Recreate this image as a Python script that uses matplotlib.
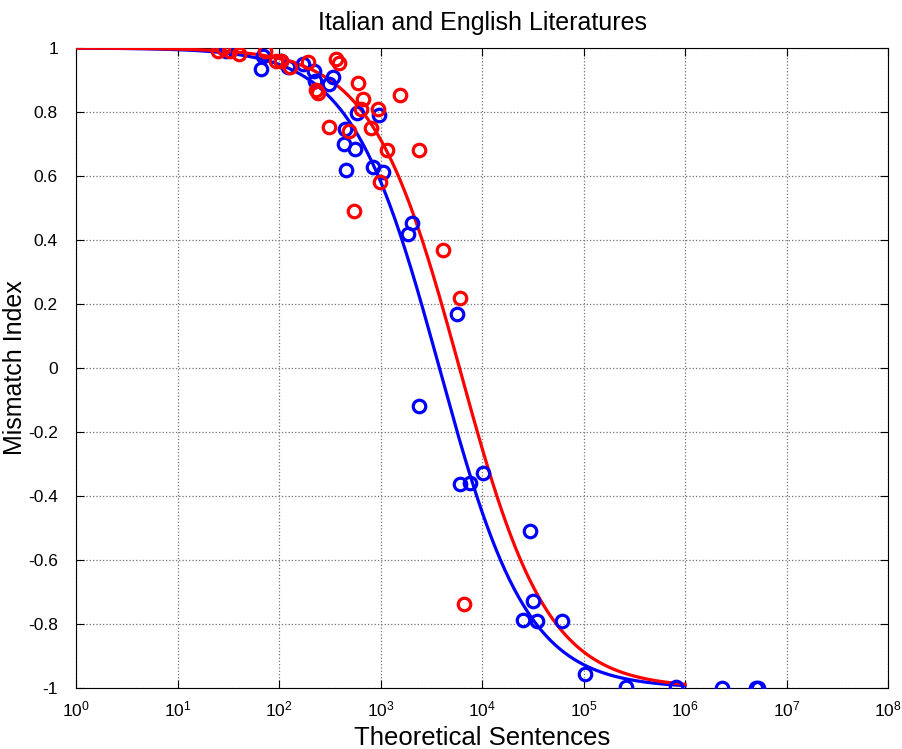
import numpy as np
import matplotlib
matplotlib.use("Agg")
import matplotlib.pyplot as plt

plt.rcParams['font.family'] = ['Liberation Sans', 'DejaVu Sans']
plt.rcParams['mathtext.default'] = 'regular'

# measured points
blue_x = [30, 66, 70, 105, 123, 172, 220, 225, 310, 340, 435, 445, 455, 560, 590,
          845, 970, 1060, 1870, 2050, 2400, 5650, 6040, 7600, 10200, 25300, 29600,
          31800, 34800, 61000, 103000, 263000, 813000, 2.3e6, 5.0e6, 5.2e6]
blue_y = [0.99, 0.935, 0.975, 0.96, 0.94, 0.95, 0.928, 0.897, 0.8875, 0.909, 0.70, 0.747,
          0.619, 0.684, 0.797, 0.628, 0.79, 0.6125, 0.42, 0.453, -0.119, 0.169, -0.3625,
          -0.36, -0.328, -0.7875, -0.509, -0.728, -0.79, -0.79, -0.956, -0.997, -0.997,
          -1.0, -1.0, -1.0]

red_x = [25, 28, 33, 40, 73, 93, 105, 128, 194, 230, 240, 310, 364, 390, 490, 550,
         600, 640, 675, 810, 950, 985, 1150, 1550, 2400, 4150, 6050, 6600]
red_y = [0.99, 1.0, 0.99, 0.98, 0.99, 0.96, 0.96, 0.94, 0.956, 0.87, 0.86, 0.753,
         0.966, 0.953, 0.74, 0.49, 0.89, 0.81, 0.84, 0.75, 0.81, 0.58, 0.68, 0.853,
         0.68, 0.37, 0.22, -0.737]

y_ticks = [-1, -0.8, -0.6, -0.4, -0.2, 0, 0.2, 0.4, 0.6, 0.8, 1]
y_tick_labels = ['-1', '-0.8', '-0.6', '-0.4', '-0.2', '0',
                 '0.2', '0.4', '0.6', '0.8', '1']

# fitted midpoints of (x0 - x) / (x0 + x)
blue_x0 = 3800
red_x0 = 6000


def fit_curve(x, x0):
    return (x0 - x) / (x0 + x)


xs = np.logspace(0, 6, 400)

fig = plt.figure(figsize=(9.02, 7.49), dpi=100)
ax = fig.add_axes([0.0843, 0.0814, 0.9002, 0.8545])

ax.plot(xs, fit_curve(xs, blue_x0), color='#0000ff', lw=2.3, zorder=3)
ax.plot(xs, fit_curve(xs, red_x0), color='#ff0000', lw=2.3, zorder=3)
ax.plot(blue_x, blue_y, 'o', mfc='none', mec='#0000ff', ms=9, mew=2.3, zorder=4)
ax.plot(red_x, red_y, 'o', mfc='none', mec='#ff0000', ms=9, mew=2.3, zorder=4)

ax.set_xscale('log')
ax.set_xlim(1, 1e8)
ax.set_ylim(-1, 1)
ax.set_xticks([10.0 ** k for k in range(9)])
ax.minorticks_off()
ax.set_yticks(y_ticks)
ax.set_yticklabels(y_tick_labels)

ax.grid(True, which='major', linestyle=':', color='0.45', lw=0.9)
ax.tick_params(direction='in', top=True, right=True, length=6, width=0.8,
               labelsize=12.5)
ax.tick_params(axis='y', pad=13)
ax.tick_params(axis='x', pad=8)
for s in ax.spines.values():
    s.set_linewidth(0.8)

ax.set_title('Italian and English Literatures', fontsize=18, pad=13)
ax.set_xlabel('Theoretical Sentences', fontsize=18.5, labelpad=5)
ax.set_ylabel('Mismatch Index', fontsize=18)
ax.yaxis.set_label_coords(-0.06, 0.5)

fig.savefig('out.png', dpi=100)
